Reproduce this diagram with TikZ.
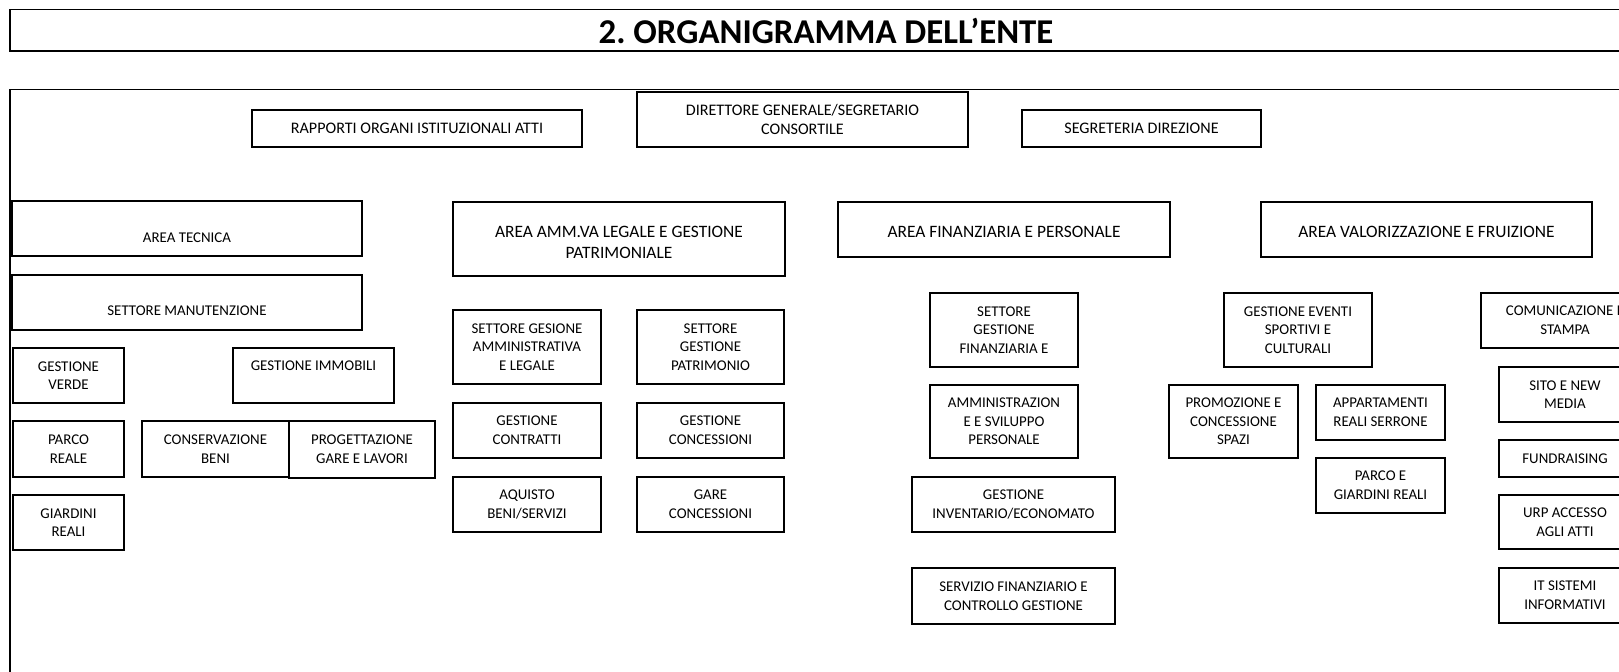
\documentclass[tikz,border=0pt]{standalone}
\usepackage{fontspec}
\setmainfont{Carlito}
\usetikzlibrary{positioning}
\newcommand\unitfont{\fontsize{7.45}{9.3}\selectfont}
\newcommand\topfont{\fontsize{8.05}{9.4}\selectfont}
\newcommand\headfont{\fontsize{8.7}{10.35}\selectfont}
\frenchspacing
\begin{document}
\begin{tikzpicture}[x=0.5pt,y=-0.5pt,
  unit/.style 2 args={draw,line width=.65pt,inner sep=0pt,align=center,font=\unitfont,minimum width=#1*0.5pt,minimum height=#2*0.5pt},
  lbl/.style={inner sep=0pt,align=center,font=\unitfont},
  top/.style={font=\topfont},
  head/.style={font=\headfont},
  frame/.style={draw,line width=.9pt}]
  \path[use as bounding box] (0,0) rectangle (1619,672);
  \clip (0,0) rectangle (1619,672);

  % title band and outer frame
  \draw[frame] (10,9.5) rectangle (1700,51);
  \node[font=\bfseries\fontsize{17.4}{20}\selectfont] (title) at (826,31) {2. ORGANIGRAMMA DELL’ENTE};
  \draw[frame] (10,89.5) rectangle (1700,720);

  % direzione
  \node[unit={330}{37},top] (rapporti) at (417,128.5) {RAPPORTI ORGANI ISTITUZIONALI ATTI};
  \node[unit={331}{55},top] (direttore) at (802.5,119.5) {DIRETTORE GENERALE/SEGRETARIO\\CONSORTILE};
  \node[unit={239}{37},top] (segreteria) at (1141.5,128.5) {SEGRETERIA DIREZIONE};

  % aree
  \node[unit={350}{55},label={[lbl,yshift=-4.5pt]center:AREA TECNICA}] (areatec) at (187,228.5) {};
  \node[unit={332}{74},label={[lbl,head,yshift=-1.8pt]center:AREA AMM.VA LEGALE E GESTIONE\\PATRIMONIALE}] (areaamm) at (619,239) {};
  \node[unit={332}{55},label={[lbl,head,yshift=-1pt]center:AREA FINANZIARIA E PERSONALE}] (areafin) at (1004,229.5) {};
  \node[unit={331}{55},label={[lbl,head,yshift=-1pt]center:AREA VALORIZZAZIONE E FRUIZIONE}] (areaval) at (1426.5,229.5) {};

  % area tecnica
  \node[unit={350}{55},label={[lbl,yshift=-4.3pt]center:SETTORE MANUTENZIONE}] (settman) at (187,302.5) {};
  \node[unit={111}{55}] (verde) at (68.5,375.5) {GESTIONE\\VERDE};
  \node[unit={161}{55},label={[lbl,yshift=5pt]center:GESTIONE IMMOBILI}] (immobili) at (313.5,375.5) {};
  \node[unit={111}{56}] (parco) at (68.5,449) {PARCO\\REALE};
  \node[unit={147}{56}] (conserv) at (215.5,449) {CONSERVAZIONE\\BENI};
  \node[unit={146}{57}] (progett) at (362,449.5) {PROGETTAZIONE\\GARE E LAVORI};
  \node[unit={111}{55}] (giardini) at (68.5,522.5) {GIARDINI\\REALI};

  % area amministrativa
  \node[unit={148}{74}] (settamm) at (527,347) {SETTORE GESIONE\\AMMINISTRATIVA\\E LEGALE};
  \node[unit={147}{74}] (settpatr) at (710.5,347) {SETTORE\\GESTIONE\\PATRIMONIO};
  \node[unit={148}{55}] (contratti) at (527,430.5) {GESTIONE\\CONTRATTI};
  \node[unit={147}{55}] (concess) at (710.5,430.5) {GESTIONE\\CONCESSIONI};
  \node[unit={148}{55}] (aquisto) at (527,504.5) {AQUISTO\\BENI/SERVIZI};
  \node[unit={147}{55}] (gare) at (710.5,504.5) {GARE\\CONCESSIONI};

  % area finanziaria
  \node[unit={148}{74}] (settfin) at (1004,330) {SETTORE\\GESTIONE\\FINANZIARIA E};
  \node[unit={148}{73}] (personale) at (1004,421.5) {AMMINISTRAZION\\E E SVILUPPO\\PERSONALE};
  \node[unit={203}{55}] (inventario) at (1013.5,504.5) {GESTIONE\\INVENTARIO/ECONOMATO};
  \node[unit={203}{56}] (servfin) at (1013.5,596) {SERVIZIO FINANZIARIO E\\CONTROLLO GESTIONE};

  % area valorizzazione
  \node[unit={148}{74}] (eventi) at (1298,330) {GESTIONE EVENTI\\SPORTIVI E\\CULTURALI};
  \node[unit={129}{73}] (promozione) at (1233.5,421.5) {PROMOZIONE E\\CONCESSIONE\\SPAZI};
  \node[unit={129}{55}] (appart) at (1380.5,412.5) {APPARTAMENTI\\REALI SERRONE};
  \node[unit={129}{55}] (parcogiard) at (1380.5,485.5) {PARCO E\\GIARDINI REALI};
  \node[unit={168}{55}] (comunic) at (1565,320.5) {COMUNICAZIONE E\\STAMPA};
  \node[unit={132}{55}] (sito) at (1565,394.5) {SITO E NEW\\MEDIA};
  \node[unit={132}{37}] (fundraising) at (1565,458.5) {FUNDRAISING};
  \node[unit={132}{54}] (urp) at (1565,522) {URP ACCESSO\\AGLI ATTI};
  \node[unit={132}{55}] (itsis) at (1565,595.5) {IT SISTEMI\\INFORMATIVI};
\end{tikzpicture}
\end{document}
